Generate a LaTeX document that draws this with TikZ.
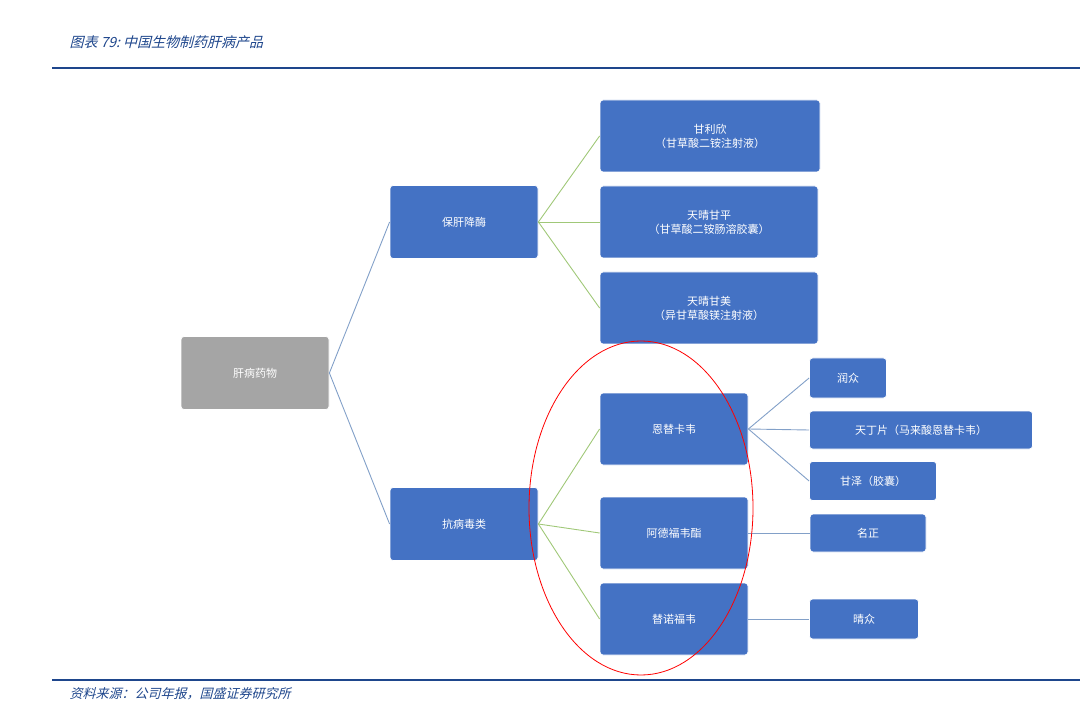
\documentclass[tikz,border=0pt]{standalone}
\usepackage{fontspec}
\newfontfamily\cjk{Noto Sans CJK SC}
\newfontfamily\cjkit[FakeSlant=0.25]{Noto Sans CJK SC}
\begin{document}
\begin{tikzpicture}[x=1pt,y=-1pt,
  box/.style={draw=white,line width=0.8pt,fill=blue!45!cyan!60!black!95,fill={rgb,255:red,68;green,114;blue,196},rounded corners=3pt,text=white,font=\cjk\fontsize{11}{14}\selectfont,align=center,inner sep=0pt},
  g/.style={draw={rgb,255:red,160;green,200;blue,120},line width=0.9pt},
  b/.style={draw={rgb,255:red,130;green,160;blue,200},line width=0.9pt}]
\useasboundingbox (0,0) rectangle (1080,714);
\definecolor{tb}{RGB}{30,70,140}
\node[anchor=west,text=tb,font=\cjkit\fontsize{14}{16}\selectfont] (title) at (66,42) {图表 79:\ 中国生物制药肝病产品};
\draw[tb,line width=1.5pt] (52,68) -- (1080,68);
\draw[tb,line width=1.5pt] (52,680) -- (1080,680);
\node[anchor=west,text=tb,font=\cjkit\fontsize{13}{16}\selectfont] (src) at (66,694) {资料来源：公司年报，国盛证券研究所};
\node[box,fill={rgb,255:red,165;green,165;blue,165},minimum width=148,minimum height=73] (root) at (255,373) {肝病药物};
\node[box,minimum width=148,minimum height=73] (a) at (464,222) {保肝降酶};
\node[box,minimum width=148,minimum height=73] (b) at (464,524) {抗病毒类};
\node[box,minimum width=220,minimum height=72] (a1) at (710,136) {甘利欣\\（甘草酸二铵注射液）};
\node[box,minimum width=218,minimum height=72] (a2) at (709,222) {天晴甘平\\（甘草酸二铵肠溶胶囊）};
\node[box,minimum width=218,minimum height=72] (a3) at (709,308) {天晴甘美\\（异甘草酸镁注射液）};
\node[box,minimum width=148,minimum height=72] (b1) at (674,429) {恩替卡韦};
\node[box,minimum width=148,minimum height=72] (b2) at (674,533) {阿德福韦酯};
\node[box,minimum width=148,minimum height=72] (b3) at (674,619) {替诺福韦};
\node[box,minimum width=77,minimum height=40] (c1) at (848,378) {润众};
\node[box,minimum width=223,minimum height=38] (c2) at (921,430) {天丁片（马来酸恩替卡韦）};
\node[box,minimum width=127,minimum height=39] (c3) at (873,481) {甘泽（胶囊）};
\node[box,minimum width=116,minimum height=38] (c4) at (868,533) {名正};
\node[box,minimum width=109,minimum height=40] (c5) at (864,619) {晴众};
\draw[b] (root.east) -- (a.west);
\draw[b] (root.east) -- (b.west);
\foreach \n in {a1,a2,a3} \draw[g] (a.east) -- (\n.west);
\foreach \n in {b1,b2,b3} \draw[g] (b.east) -- (\n.west);
\foreach \n in {c1,c2,c3} \draw[b] (b1.east) -- (\n.west);
\draw[b] (b2.east) -- (c4.west);
\draw[b] (b3.east) -- (c5.west);
\draw[red,line width=0.8pt] (641,508) ellipse [x radius=112,y radius=167];
\end{tikzpicture}
\end{document}
